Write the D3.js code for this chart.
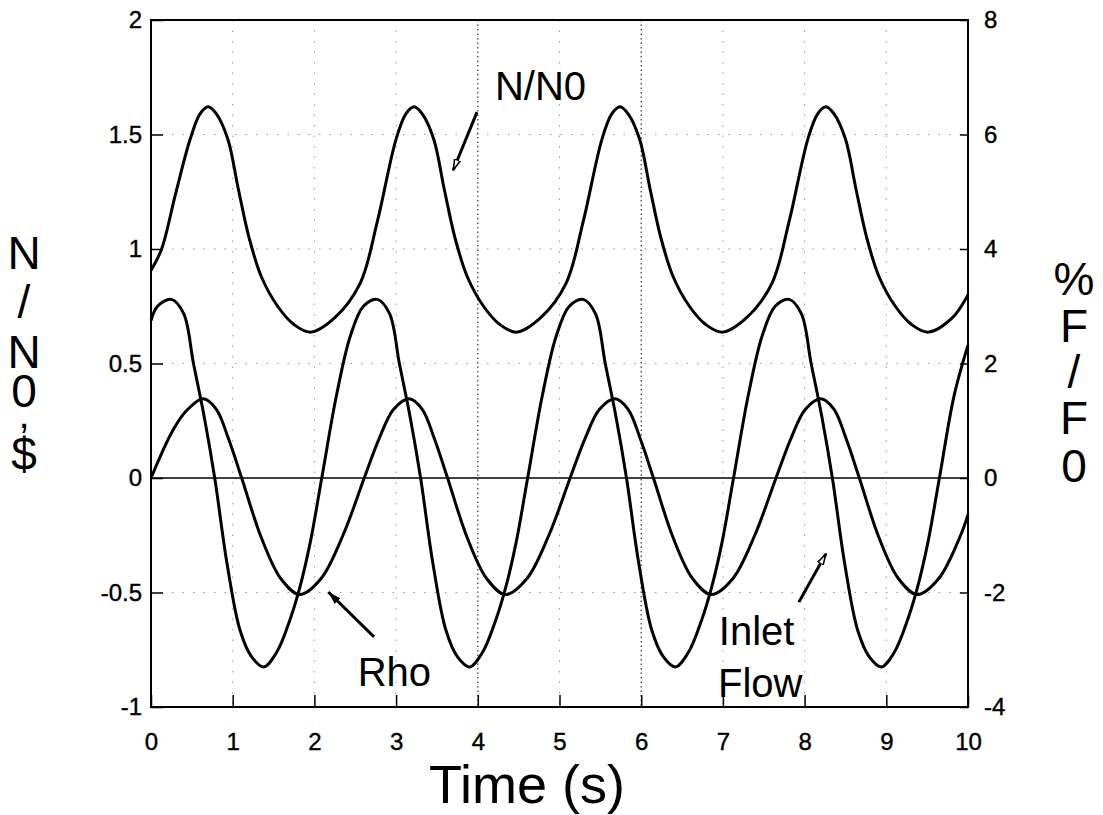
<!DOCTYPE html>
<html>
<head>
<meta charset="utf-8">
<script src="https://cdn.jsdelivr.net/npm/d3@7"></script>
<style>
  html, body { margin: 0; padding: 0; background: #fff; }
  svg text { font-family: "Liberation Sans", Arial, Helvetica, sans-serif; fill: #000; }
</style>
</head>
<body>
<div id="chart"></div>
<script>
// Reactor response to an oscillating inlet flow

// N/N0 (left axis), [time s, value]
const nn0Points = [
  [0, 0.906], [0.13, 1.0], [0.30, 1.24], [0.48, 1.48], [0.60, 1.59], [0.70, 1.621], [0.80, 1.59],
  [0.94, 1.48], [1.07, 1.26], [1.20, 1.05], [1.35, 0.88], [1.55, 0.75], [1.75, 0.67], [1.955, 0.637],
  [2.25, 0.70], [2.56, 0.85], [2.77, 1.12], [3.00, 1.48], [3.12, 1.59], [3.22, 1.621], [3.32, 1.59],
  [3.46, 1.48], [3.59, 1.26], [3.72, 1.05], [3.87, 0.88], [4.07, 0.75], [4.27, 0.67], [4.475, 0.637],
  [4.77, 0.70], [5.08, 0.85], [5.29, 1.12], [5.52, 1.48], [5.64, 1.59], [5.74, 1.621], [5.84, 1.59],
  [5.98, 1.48], [6.11, 1.26], [6.24, 1.05], [6.39, 0.88], [6.59, 0.75], [6.79, 0.67], [6.995, 0.637],
  [7.29, 0.70], [7.60, 0.85], [7.81, 1.12], [8.04, 1.48], [8.16, 1.59], [8.26, 1.621], [8.36, 1.59],
  [8.50, 1.48], [8.63, 1.26], [8.76, 1.05], [8.91, 0.88], [9.11, 0.75], [9.31, 0.67], [9.515, 0.637],
  [9.81, 0.70], [10, 0.80]
];

// Rho in $ (left axis)
const rhoPoints = [
  [0, 0], [0.27, 0.21], [0.45, 0.30], [0.64, 0.346], [0.80, 0.30], [0.95, 0.17], [1.11, 0],
  [1.35, -0.26], [1.59, -0.44], [1.82, -0.509], [2.08, -0.44], [2.35, -0.25], [2.61, 0],
  [2.79, 0.17], [2.97, 0.30], [3.16, 0.346], [3.32, 0.30], [3.47, 0.17], [3.63, 0],
  [3.87, -0.26], [4.11, -0.44], [4.34, -0.509], [4.60, -0.44], [4.87, -0.25], [5.13, 0],
  [5.31, 0.17], [5.49, 0.30], [5.68, 0.346], [5.84, 0.30], [5.99, 0.17], [6.15, 0],
  [6.39, -0.26], [6.63, -0.44], [6.86, -0.509], [7.12, -0.44], [7.39, -0.25], [7.65, 0],
  [7.83, 0.17], [8.01, 0.30], [8.20, 0.346], [8.36, 0.30], [8.51, 0.17], [8.67, 0],
  [8.91, -0.26], [9.15, -0.44], [9.38, -0.509], [9.64, -0.44], [9.91, -0.25], [10, -0.16]
];

// Inlet flow in %F/F0 (right axis)
const flowPoints = [
  [0, 2.75], [0.08, 3.0], [0.25, 3.12], [0.40, 2.87], [0.52, 2.0], [0.65, 1.08], [0.78, 0],
  [0.93, -1.49], [1.09, -2.66], [1.23, -3.12], [1.38, -3.30], [1.54, -3.04], [1.70, -2.48],
  [1.82, -1.92], [1.95, -1.12], [2.09, 0], [2.27, 1.44], [2.44, 2.48], [2.60, 3.0], [2.77, 3.12],
  [2.92, 2.87], [3.04, 2.0], [3.17, 1.08], [3.30, 0], [3.45, -1.49], [3.61, -2.66], [3.75, -3.12],
  [3.90, -3.30], [4.06, -3.04], [4.22, -2.48], [4.34, -1.92], [4.47, -1.12], [4.61, 0], [4.79, 1.44],
  [4.96, 2.48], [5.12, 3.0], [5.29, 3.12],
  [5.44, 2.87], [5.56, 2.0], [5.69, 1.08], [5.82, 0], [5.97, -1.49], [6.13, -2.66], [6.27, -3.12],
  [6.42, -3.30], [6.58, -3.04], [6.74, -2.48], [6.86, -1.92], [6.99, -1.12], [7.13, 0], [7.31, 1.44],
  [7.48, 2.48], [7.64, 3.0], [7.81, 3.12],
  [7.96, 2.87], [8.08, 2.0], [8.21, 1.08], [8.34, 0], [8.49, -1.49], [8.65, -2.66], [8.79, -3.12],
  [8.94, -3.30], [9.10, -3.04], [9.26, -2.48], [9.38, -1.92], [9.51, -1.12], [9.65, 0], [9.83, 1.44],
  [10, 2.32]
];

const xTicks = [0, 1, 2, 3, 4, 5, 6, 7, 8, 9, 10];
const leftTicks = [-1, -0.5, 0, 0.5, 1, 1.5, 2];
const rightTicks = [-4, -2, 0, 2, 4, 6, 8];
const strongGridX = [4, 6];

// text labels placed in data coords (time, left-axis value)
const annotations = [
  { text: 'N/N0', t: 4.21, v: 1.651 },
  { text: 'Rho', t: 2.53, v: -0.908 },
  { text: 'Inlet', t: 6.95, v: -0.729 },
  { text: 'Flow', t: 6.94, v: -0.956 }
];
// arrows: from tail to tip, in (time, left-axis value)
const arrows = [
  { from: [3.99, 1.598], to: [3.70, 1.345], head: 'open' },
  { from: [2.73, -0.694], to: [2.17, -0.498], head: 'solid' },
  { from: [7.93, -0.542], to: [8.26, -0.332], head: 'open' }
];

const leftTitle = ['N', '/', 'N', '0', ',', '$'];
const rightTitle = ['%', 'F', '/', 'F', '0'];

function drawChart() {
  const W = 1103, H = 815;
  const margin = { top: 20, right: 135, bottom: 108, left: 151 };

  const svg = d3.select('#chart').append('svg')
    .attr('width', W)
    .attr('height', H);

  const x = d3.scaleLinear().domain([0, 10]).range([margin.left, W - margin.right]);
  const yL = d3.scaleLinear().domain([-1, 2]).range([H - margin.bottom, margin.top]);
  const yR = d3.scaleLinear().domain([-4, 8]).range([H - margin.bottom, margin.top]);

  const x0 = x.range()[0], x1 = x.range()[1];
  const yTop = yL.range()[1], yBot = yL.range()[0];

  // dotted grid
  const grid = svg.append('g');
  grid.selectAll('.gx')
    .data(xTicks.slice(1, -1))
    .join('line')
    .attr('x1', d => x(d)).attr('x2', d => x(d))
    .attr('y1', yTop).attr('y2', yBot)
    .attr('stroke', d => strongGridX.includes(d) ? '#444' : '#999')
    .attr('stroke-width', d => strongGridX.includes(d) ? 1.3 : 1)
    .attr('stroke-dasharray', d => strongGridX.includes(d) ? '1.5,3' : '1.5,9');
  grid.selectAll('.gy')
    .data(leftTicks.filter(d => d !== 0 && d !== -1 && d !== 2))
    .join('line')
    .attr('x1', x0).attr('x2', x1)
    .attr('y1', d => yL(d)).attr('y2', d => yL(d))
    .attr('stroke', '#999')
    .attr('stroke-width', 1)
    .attr('stroke-dasharray', '1.5,9');

  // zero line
  svg.append('line')
    .attr('x1', x0).attr('x2', x1)
    .attr('y1', yL(0)).attr('y2', yL(0))
    .attr('stroke', '#000').attr('stroke-width', 1.5);

  // axes, ticks inward
  const tickLen = 12;
  const bottomAxis = d3.axisBottom(x).tickValues(xTicks).tickSize(-tickLen).tickPadding(26).tickFormat(d3.format('d'));
  const leftAxis = d3.axisLeft(yL).tickValues(leftTicks).tickSize(-tickLen).tickPadding(9).tickFormat(d => String(d));
  const rightAxis = d3.axisRight(yR).tickValues(rightTicks).tickSize(-8).tickPadding(16).tickFormat(d => String(d));

  function styleAxis(g) {
    g.select('.domain').remove();
    g.selectAll('.tick line').attr('stroke', '#000').attr('stroke-width', 1.5);
    g.selectAll('.tick text').attr('font-size', 24).attr('fill', '#000')
      .attr('stroke', '#000').attr('stroke-width', 0.4);
  }

  svg.append('g').attr('transform', `translate(0,${yBot})`).call(bottomAxis).call(styleAxis);
  svg.append('g').attr('transform', `translate(${x0},0)`).call(leftAxis).call(styleAxis);
  svg.append('g').attr('transform', `translate(${x1},0)`).call(rightAxis).call(styleAxis);

  // frame
  svg.append('rect')
    .attr('x', x0).attr('y', yTop)
    .attr('width', x1 - x0).attr('height', yBot - yTop)
    .attr('fill', 'none').attr('stroke', '#000').attr('stroke-width', 2);

  // curves
  const lineL = d3.line().x(d => x(d[0])).y(d => yL(d[1])).curve(d3.curveCatmullRom.alpha(0.5));
  const lineR = d3.line().x(d => x(d[0])).y(d => yR(d[1])).curve(d3.curveCatmullRom.alpha(0.5));

  const curves = svg.append('g').attr('fill', 'none').attr('stroke', '#000').attr('stroke-width', 3)
    .attr('stroke-linejoin', 'round');
  curves.append('path').attr('d', lineL(nn0Points));
  curves.append('path').attr('d', lineL(rhoPoints));
  curves.append('path').attr('d', lineR(flowPoints));

  // arrow heads
  const defs = svg.append('defs');
  defs.append('marker')
    .attr('id', 'head-open')
    .attr('viewBox', '0 -5 12 10')
    .attr('refX', 11).attr('refY', 0)
    .attr('markerWidth', 12).attr('markerHeight', 10)
    .attr('markerUnits', 'userSpaceOnUse')
    .attr('orient', 'auto')
    .append('path')
    .attr('d', 'M0,-3L11,0L0,3Z')
    .attr('fill', '#fff').attr('stroke', '#000').attr('stroke-width', 1.6);
  defs.append('marker')
    .attr('id', 'head-solid')
    .attr('viewBox', '0 -5 14 10')
    .attr('refX', 13).attr('refY', 0)
    .attr('markerWidth', 14).attr('markerHeight', 10)
    .attr('markerUnits', 'userSpaceOnUse')
    .attr('orient', 'auto')
    .append('path')
    .attr('d', 'M0,-4L13,0L0,4Z')
    .attr('fill', '#000');

  svg.append('g').selectAll('line')
    .data(arrows)
    .join('line')
    .attr('x1', d => x(d.from[0])).attr('y1', d => yL(d.from[1]))
    .attr('x2', d => x(d.to[0])).attr('y2', d => yL(d.to[1]))
    .attr('stroke', '#000').attr('stroke-width', 3)
    .attr('marker-end', d => `url(#head-${d.head})`);

  svg.append('g').selectAll('text')
    .data(annotations)
    .join('text')
    .attr('x', d => x(d.t)).attr('y', d => yL(d.v))
    .attr('font-size', 40)
    .text(d => d.text);

  // axis titles, stacked letters
  const leftY = [269, 318, 368, 407, 428, 470];
  svg.append('g').selectAll('text')
    .data(leftTitle)
    .join('text')
    .attr('x', 24).attr('y', (d, i) => leftY[i])
    .attr('text-anchor', 'middle')
    .attr('font-size', (d, i) => i === 4 ? 40 : 46)
    .text(d => d);

  const rightY = [295, 342, 388, 434, 482];
  svg.append('g').selectAll('text')
    .data(rightTitle)
    .join('text')
    .attr('x', 1074).attr('y', (d, i) => rightY[i])
    .attr('text-anchor', 'middle')
    .attr('font-size', 46)
    .text(d => d);

  svg.append('text')
    .attr('x', 527).attr('y', 803)
    .attr('text-anchor', 'middle')
    .attr('font-size', 54)
    .text('Time (s)');
}

drawChart();
</script>
</body>
</html>
